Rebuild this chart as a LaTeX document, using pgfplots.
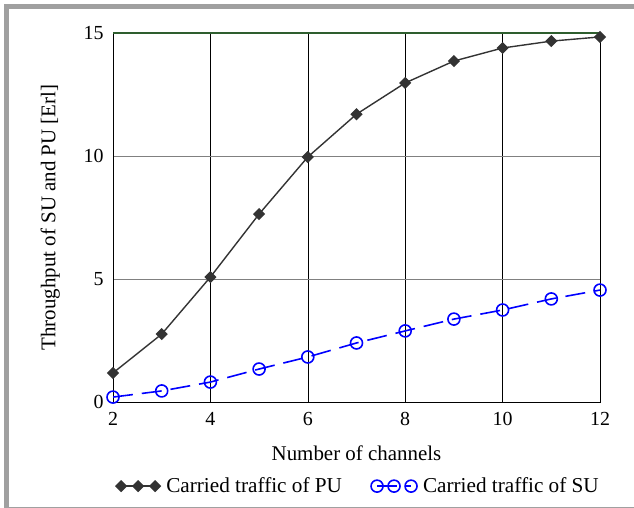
\documentclass[border=0pt]{standalone}
\usepackage{pgfplots}
\pgfplotsset{compat=1.18}
\usepackage{fontspec}
\setmainfont{Liberation Serif}
\definecolor{framegray}{HTML}{A0A0A0}
\definecolor{pucol}{HTML}{333333}
\definecolor{topgreen}{HTML}{2E5E2E}
\begin{document}
\begin{tikzpicture}
\fill[white] (0bp,0bp) rectangle (634bp,508bp);
\fill[framegray] (4bp,499bp) rectangle (634bp,504bp);
\fill[framegray] (4bp,0bp) rectangle (9bp,504bp);
\fill[framegray] (4bp,0bp) rectangle (634bp,1.5bp);
\begin{axis}[
    at={(113bp,106bp)}, anchor=south west,
    scale only axis, width=487bp, height=369bp,
    xmin=2, xmax=12, ymin=0, ymax=15,
    xtick={2,4,6,8,10,12}, ytick={0,5,10,15},
    major tick length=0pt,
    xmajorgrids, ymajorgrids,
    x grid style={black, line width=0.6pt},
    y grid style={gray, line width=0.6pt},
    axis line style={black, line width=0.9pt},
    tick label style={font=\fontsize{20}{22}\selectfont},
    xticklabel style={yshift=-7bp},
    yticklabel style={xshift=-6bp},
    /pgf/number format/assume math mode=true,
    label style={font=\fontsize{21}{23}\selectfont},
    xlabel={Number of channels},
    xlabel style={at={(axis description cs:0.5,-0.138)}, anchor=center},
    ylabel={Throughput of SU and PU [Erl]},
    ylabel style={at={(axis description cs:-0.129,0.5)}, anchor=center},
    legend style={at={(0.504,-0.228)}, anchor=center, draw=none, fill=none,
        font=\fontsize{21.3}{23}\selectfont, legend columns=2,
        /tikz/every even column/.append style={column sep=27bp},
        /tikz/every odd column/.append style={column sep=4bp}},
    legend image code/.code={\draw[#1] plot coordinates {(0bp,0bp) (17bp,0bp) (34bp,0bp)};},
]
\addplot[pucol, line width=1.4pt, mark=square*, mark size=3.6bp, mark options={solid, rotate=45, fill=pucol}]
coordinates {
(2,1.18) (3,2.76) (4,5.08) (5,7.64) (6,9.96) (7,11.70) (8,12.97) (9,13.86) (10,14.39) (11,14.67) (12,14.84)
};
\addlegendentry{Carried traffic of PU}
\addplot[blue, line width=1.6pt, dash pattern=on 20bp off 9bp, mark=o, mark size=6bp, mark options={solid, line width=1.6pt}]
coordinates {
(2,0.20) (3,0.45) (4,0.81) (5,1.34) (6,1.83) (7,2.40) (8,2.89) (9,3.37) (10,3.74) (11,4.19) (12,4.55)
};
\addlegendentry{Carried traffic of SU}
\draw[topgreen, line width=1.2pt] (rel axis cs:0,1) -- (rel axis cs:1,1);
\end{axis}
\end{tikzpicture}
\end{document}
